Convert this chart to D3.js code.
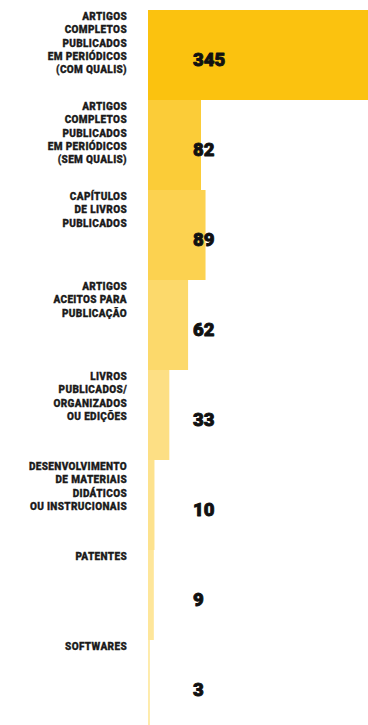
<!DOCTYPE html>
<html lang="pt">
<head>
<meta charset="utf-8">
<script src="https://cdn.jsdelivr.net/npm/d3@7"></script>
<style>
  html, body { margin: 0; padding: 0; background: #ffffff; }
  svg { display: block; }
</style>
</head>
<body>
<svg id="chart" width="368" height="725"></svg>
<script>
// Produção acadêmica por tipo
const categories = [
  ["ARTIGOS", "COMPLETOS", "PUBLICADOS", "EM PERIÓDICOS", "(COM QUALIS)"],
  ["ARTIGOS", "COMPLETOS", "PUBLICADOS", "EM PERIÓDICOS", "(SEM QUALIS)"],
  ["CAPÍTULOS", "DE LIVROS", "PUBLICADOS"],
  ["ARTIGOS", "ACEITOS PARA", "PUBLICAÇÃO"],
  ["LIVROS", "PUBLICADOS/", "ORGANIZADOS", "OU EDIÇÕES"],
  ["DESENVOLVIMENTO", "DE MATERIAIS", "DIDÁTICOS", "OU INSTRUCIONAIS"],
  ["PATENTES"],
  ["SOFTWARES"]
];
const values = [345, 82, 89, 62, 33, 10, 9, 3];
const barColors = ["#fbc20f", "#fbcc38", "#fcd250", "#fcd96b", "#fddf84", "#fde28d", "#fee69a", "#feebab"];

const svg = d3.select("#chart");
const keys = categories.map((c, i) => i);

const y = d3.scaleBand()
  .domain(keys)
  .range([10, 10 + 90 * keys.length])
  .padding(0);

const x = d3.scaleLinear()
  .domain([0, 345])
  .range([148, 371]);

// bars
svg.append("g")
  .selectAll("rect")
  .data(keys)
  .join("rect")
  .attr("x", x(0))
  .attr("y", i => y(i))
  .attr("width", i => x(values[i]) - x(0))
  .attr("height", y.bandwidth())
  .attr("fill", i => barColors[i]);

// category labels, right-aligned to the left of the bars
const labels = svg.append("g")
  .attr("font-family", "Roboto, 'Noto Sans', sans-serif")
  .attr("font-weight", 900)
  .attr("font-size", "10px")
  .attr("letter-spacing", "0.35px")
  .attr("fill", "#1b1b1b")
  .attr("stroke", "#1b1b1b")
  .attr("stroke-width", 0.3)
  .attr("text-anchor", "end");

labels.selectAll("text")
  .data(keys)
  .join("text")
  .attr("x", 127)
  .attr("y", i => y(i) + 10)
  .each(function (i) {
    d3.select(this).selectAll("tspan")
      .data(categories[i])
      .join("tspan")
      .attr("x", 127)
      .attr("dy", (d, j) => j === 0 ? 0 : 13.3)
      .text(d => d);
  });

// value labels
svg.append("g")
  .attr("font-family", "Roboto, 'Noto Sans', sans-serif")
  .attr("font-weight", 900)
  .attr("font-size", "18.5px")
  .attr("fill", "#111111")
  .attr("stroke", "#111111")
  .attr("stroke-width", 0.9)
  .attr("stroke-linejoin", "round")
  .selectAll("text")
  .data(keys)
  .join("text")
  .attr("x", 193)
  .attr("y", i => y(i) + 56)
  .text(i => values[i]);
</script>
</body>
</html>
